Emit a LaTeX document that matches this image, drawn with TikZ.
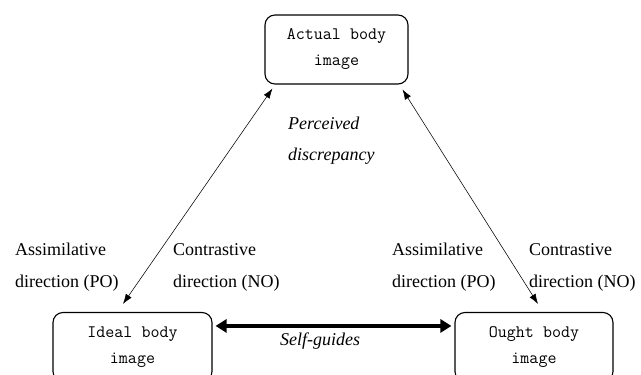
\documentclass[tikz,border=0pt]{standalone}
\usepackage{fontspec}
\setmainfont{Liberation Serif}
\usetikzlibrary{arrows.meta}

\begin{document}
\begin{tikzpicture}[x=1pt,y=-1pt,
  bodybox/.style={draw, line width=1.1pt, rounded corners=10pt, align=center,
    minimum height=69pt, inner sep=0pt, font=\ttfamily\fontsize{17.5}{26}\selectfont},
  sidelabel/.style={anchor=west, align=left, inner sep=0pt,
    font=\fontsize{18}{32}\selectfont},
  thin/.style={line width=.55pt, {Latex[length=10pt,width=7pt]}-{Latex[length=10pt,width=7pt]}},
  thick/.style={line width=4.5pt, {Triangle[length=11pt,width=13pt]}-{Triangle[length=11pt,width=13pt]}}]
\clip (0,0) rectangle (641,375);
% boxes
\node [bodybox, minimum width=143pt] (actual) at (336.5,49.5) {Actual body\\image};
\node [bodybox, minimum width=159pt] (ideal) at (132.5,347) {Ideal body\\image};
\node [bodybox, minimum width=158pt] (ought) at (534,347) {Ought body\\image};
% discrepancy arrows
\draw [thin] ([xshift=8pt,yshift=-4pt]actual.south west) -- ([xshift=-9.5pt,yshift=8pt]ideal.north);
\draw [thin] ([xshift=-6pt,yshift=-5pt]actual.south east) -- ([xshift=4pt,yshift=8pt]ought.north);
\node [anchor=west, align=left, inner sep=0pt, font=\itshape\fontsize{18}{31}\selectfont]
  (perc) at (288,141) {Perceived\\discrepancy};
% self-guides
\draw [thick] ([xshift=3pt,yshift=-14pt]ideal.north east) -- ([xshift=-3pt,yshift=-14pt]ought.north west);
\node [font=\itshape\fontsize{18}{22}\selectfont, inner sep=0pt] (guides) at (320,341) {Self-guides};
% directions
\node [sidelabel] (lpo) at (15,267) {Assimilative\\direction (PO)};
\node [sidelabel] (lno) at (173,267) {Contrastive\\direction (NO)};
\node [sidelabel] (rpo) at (392,267) {Assimilative\\direction (PO)};
\node [sidelabel] (rno) at (529,267) {Contrastive\\direction (NO)};
\end{tikzpicture}
\end{document}
